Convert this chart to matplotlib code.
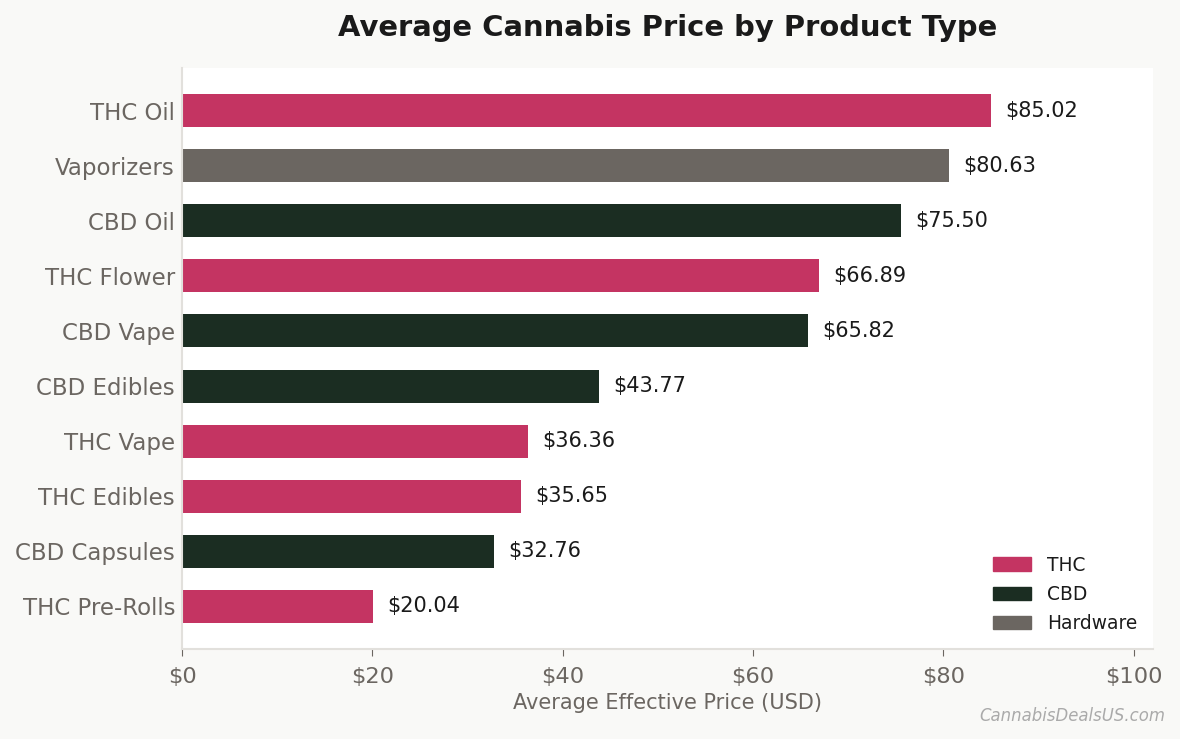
import matplotlib
matplotlib.use("Agg")
import matplotlib.pyplot as plt
from matplotlib.patches import Patch

plt.rcParams["font.family"] = ["DejaVu Sans"]

categories = ["THC Oil", "Vaporizers", "CBD Oil", "THC Flower", "CBD Vape",
              "CBD Edibles", "THC Vape", "THC Edibles", "CBD Capsules", "THC Pre-Rolls"]
prices = [85.02, 80.63, 75.50, 66.89, 65.82, 43.77, 36.36, 35.65, 32.76, 20.04]
groups = ["THC", "Hardware", "CBD", "THC", "CBD", "CBD", "THC", "THC", "CBD", "THC"]
x_ticks = [0, 20, 40, 60, 80, 100]

colors = {"THC": "#c43462", "CBD": "#1b2d22", "Hardware": "#6b6661"}
text_gray = "#6b6661"
bg = "#f9f9f7"

fig = plt.figure(figsize=(11.8, 7.39), dpi=100, facecolor=bg)
ax = fig.add_axes([182/1180, 1 - 649/739, (1153-182)/1180, (649-68)/739])
ax.set_facecolor("white")

ypos = list(range(len(categories)))[::-1]
ax.barh(ypos, prices, height=0.6, color=[colors[g] for g in groups], zorder=2)
for y, v in zip(ypos, prices):
    ax.text(v + 1.5, y, f"${v:.2f}", va="center", ha="left", fontsize=15, color="#1a1a1a")

ax.set_yticks(ypos)
ax.set_yticklabels(categories, fontsize=16.5, color=text_gray)
ax.tick_params(axis="y", length=0, pad=5)
ax.set_xticks(x_ticks)
ax.set_xticklabels([f"${t}" for t in x_ticks], fontsize=16.2, color=text_gray)
ax.tick_params(axis="x", length=5, color=text_gray, pad=8)
ax.set_xlim(0, max(prices) * 1.2)
ax.set_xlabel("Average Effective Price (USD)", fontsize=15, color=text_gray, labelpad=4)

for s in ["top", "right"]:
    ax.spines[s].set_visible(False)
for s in ["left", "bottom"]:
    ax.spines[s].set_color("#e2e0dc")
    ax.spines[s].set_linewidth(1.5)

fig.suptitle("Average Cannabis Price by Product Type", fontsize=20.9, fontweight="bold",
             color="#1a1a1a", x=(182+1153)/2/1180, y=1 - 28.5/739, va="center")

handles = [Patch(color=colors[k], label=k) for k in ["THC", "CBD", "Hardware"]]
ax.legend(handles=handles, loc="lower right", frameon=False, fontsize=13.4,
          handlelength=2.05, handleheight=0.7, handletextpad=0.82, labelspacing=0.55,
          borderaxespad=0.46, labelcolor="#1a1a1a")

fig.text(1165/1180, 1 - 716/739, "CannabisDealsUS.com", ha="right", va="center",
         fontsize=11.9, style="italic", color="#aaaaaa")

fig.savefig("out.png", dpi=100, facecolor=bg)
